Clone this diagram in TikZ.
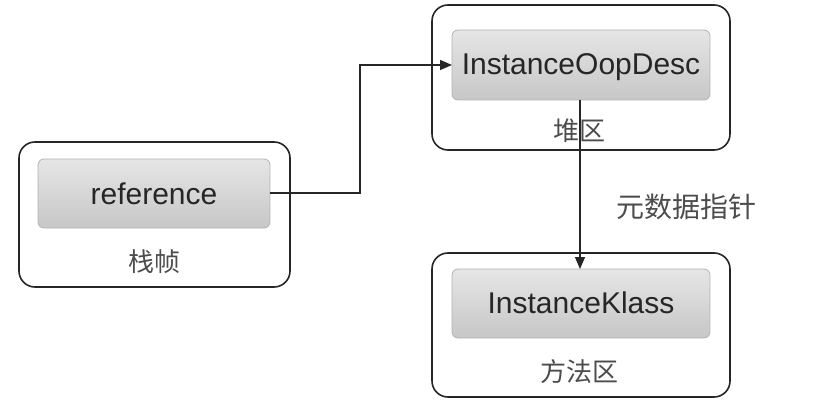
\documentclass[tikz,border=0pt]{standalone}
\usepackage{fontspec}
\setmainfont{Liberation Sans}
\newfontfamily\cjk{Noto Sans CJK SC}
\usetikzlibrary{arrows.meta}
\begin{document}
\begin{tikzpicture}[x=1pt,y=-1pt,
  outerbox/.style={draw=black!85, line width=1.6pt, rounded corners=16pt},
  innerbox/.style={draw=black!30, line width=0.8pt, rounded corners=6pt, top color=black!10, bottom color=black!22},
  maintext/.style={font=\fontsize{30}{34}\selectfont, text=black!85},
  cntext/.style={font=\cjk\fontsize{26}{30}\selectfont, text=black!70},
  conn/.style={draw=black!85, line width=1.3pt},
  tip/.style={-{Triangle[length=12pt,width=10pt]}}]
\useasboundingbox (0,0) rectangle (818,414);
% left: stack frame
\draw[outerbox] (19,142) rectangle (290,287);
\draw[innerbox] (38,159) rectangle (270,228);
\node[maintext] (ref) at (154,193.5) {reference};
\coordinate (refE) at (270,193);
\node[cntext] (zhen) at (154,262) {栈帧};
% top right: heap
\draw[outerbox] (432,5) rectangle (730,150);
\draw[innerbox] (452,30) rectangle (710,100);
\node[maintext] (oop) at (581,67) {InstanceOopDesc};
\coordinate (oopW) at (452,65);
\coordinate (oopS) at (580,100);
\node[cntext] (dui) at (579,131) {堆区};
% bottom right: method area
\draw[outerbox] (432,253) rectangle (730,397);
\draw[innerbox] (452,269) rectangle (710,338);
\node[maintext] (klass) at (581,303) {InstanceKlass};
\coordinate (klassN) at (580,269);
\node[cntext] (fang) at (579,372) {方法区};
% connectors
\draw[conn,tip] (refE) -- (360,193) -- (360,65) -- (oopW);
\draw[conn,tip] (oopS) -- (klassN);
\node[cntext, font=\cjk\fontsize{28}{32}\selectfont] (meta) at (686,207) {元数据指针};
\end{tikzpicture}
\end{document}
